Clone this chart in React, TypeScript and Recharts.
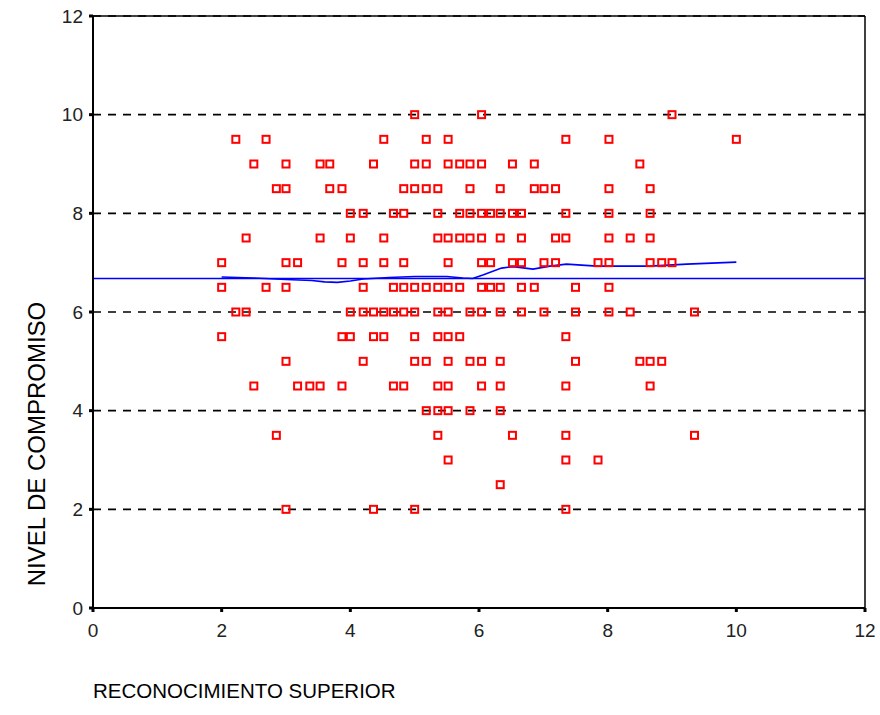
import React from "react";
import {
  ScatterChart,
  Scatter,
  XAxis,
  YAxis,
  CartesianGrid,
  ReferenceLine,
} from "recharts";

// Raw observations: one row per NIVEL DE COMPROMISO level, listing the
// RECONOCIMIENTO SUPERIOR scores recorded at that level.
const level10 = [5.0, 6.04, 9.0];
const level95 = [2.22, 2.69, 4.52, 5.18, 5.52, 7.35, 8.02, 10.0];
const level9 = [2.5, 3.0, 3.53, 3.68, 4.36, 5.0, 5.18, 5.52, 5.7, 5.86, 6.04, 6.52, 6.86, 8.5];
const level85 = [2.85, 3.0, 3.68, 3.87, 4.83, 5.0, 5.18, 5.36, 5.86, 6.33, 6.86, 7.01, 7.19, 8.02, 8.66];
const level8 = [4.0, 4.2, 4.67, 4.83, 5.36, 5.7, 5.86, 6.04, 6.18, 6.33, 6.52, 6.66, 7.35, 8.02, 8.66];
const level75 = [2.38, 3.53, 4.0, 4.52, 5.36, 5.52, 5.7, 5.86, 6.04, 6.33, 6.66, 7.19, 7.35, 8.02, 8.35, 8.66];
const level7 = [2.0, 3.0, 3.18, 3.87, 4.2, 4.52, 4.83, 5.52, 6.04, 6.18, 6.52, 6.66, 7.01, 7.19, 7.85, 8.02, 8.66, 8.84, 9.0];
const level65 = [2.0, 2.69, 3.0, 4.2, 4.67, 4.83, 5.0, 5.18, 5.36, 5.52, 5.7, 6.04, 6.18, 6.33, 6.66, 6.86, 7.5, 8.02];
const level6 = [2.22, 2.38, 4.0, 4.2, 4.36, 4.52, 4.67, 4.83, 5.0, 5.36, 5.52, 5.86, 6.04, 6.33, 6.66, 7.01, 7.5, 8.02, 8.35, 9.35];
const level55 = [2.0, 3.87, 4.0, 4.36, 4.52, 5.0, 5.36, 5.52, 5.7, 7.35];
const level5 = [3.0, 4.2, 5.0, 5.18, 5.52, 5.86, 6.04, 6.33, 7.5, 8.5, 8.66, 8.84];
const level45 = [2.5, 3.18, 3.37, 3.53, 3.87, 4.67, 4.83, 5.36, 5.52, 6.04, 6.33, 7.35, 8.66];
const level4 = [5.18, 5.36, 5.52, 5.86, 6.33];
const level35 = [2.85, 5.36, 6.52, 7.35, 9.35];
const level3 = [5.52, 7.35, 7.85];
const level25 = [6.33];
const level2 = [3.0, 4.36, 5.0, 7.35];

const levelRows: [number, number[]][] = [
  [10, level10],
  [9.5, level95],
  [9, level9],
  [8.5, level85],
  [8, level8],
  [7.5, level75],
  [7, level7],
  [6.5, level65],
  [6, level6],
  [5.5, level55],
  [5, level5],
  [4.5, level45],
  [4, level4],
  [3.5, level35],
  [3, level3],
  [2.5, level25],
  [2, level2],
];

// Smoothed fit across the observed range
const fitX = [2.0, 2.5, 3.0, 3.4, 3.6, 3.8, 4.0, 4.2, 4.6, 5.0, 5.5, 5.75, 5.9, 6.06, 6.35, 6.53, 6.84, 7.1, 7.36, 7.83, 8.66, 9.23, 10.0];
const fitY = [6.71, 6.69, 6.66, 6.64, 6.61, 6.6, 6.63, 6.67, 6.7, 6.72, 6.72, 6.69, 6.68, 6.75, 6.89, 6.92, 6.87, 6.93, 6.97, 6.93, 6.93, 6.97, 7.01];

// Overall mean of NIVEL DE COMPROMISO
const meanLevel = 6.68;

const axisTicks = [0, 2, 4, 6, 8, 10, 12];

const points = levelRows.flatMap(([y, xs]) => xs.map((x) => ({ x, y })));
const fitLine = fitX.map((x, i) => ({ x, y: fitY[i] }));

const FONT = "Arial, 'Liberation Sans', Helvetica, sans-serif";

const HollowSquare = (props: any) => {
  const { cx, cy } = props;
  if (cx == null || cy == null) return null;
  return (
    <rect
      x={cx - 3.5}
      y={cy - 3.5}
      width={7}
      height={7}
      fill="none"
      stroke="#ff0000"
      strokeWidth={2}
    />
  );
};

const NoDot = () => null;

const YTitle = () => (
  <text
    x={36}
    y={444}
    transform="rotate(-90, 36, 444)"
    textAnchor="middle"
    dominantBaseline="central"
    fontFamily={FONT}
    fontSize={24}
    fill="#000"
  >
    NIVEL DE COMPROMISO
  </text>
);

const XTitle = () => (
  <text
    x={93}
    y={698}
    textAnchor="start"
    fontFamily={FONT}
    fontSize={20.5}
    fill="#000"
  >
    RECONOCIMIENTO SUPERIOR
  </text>
);

export default function App() {
  return (
    <div style={{ position: "absolute", left: 0, top: 0, background: "#fff" }}>
      <ScatterChart
        width={880}
        height={715}
        margin={{ top: 16, right: 15, bottom: 0, left: 0 }}
      >
        <CartesianGrid
          horizontal={true}
          vertical={false}
          stroke="#000"
          strokeWidth={1.6}
          strokeDasharray="8 7"
        />
        <XAxis
          type="number"
          dataKey="x"
          domain={[0, 12]}
          ticks={axisTicks}
          interval={0}
          height={107}
          axisLine={{ stroke: "#000", strokeWidth: 2 }}
          tickLine={{ stroke: "#000", strokeWidth: 3 }}
          tickSize={4}
          tickMargin={12}
          tick={{ fill: "#222", fontSize: 19, fontFamily: FONT }}
          label={<XTitle />}
        />
        <YAxis
          type="number"
          dataKey="y"
          domain={[0, 12]}
          ticks={axisTicks}
          interval={0}
          width={93}
          axisLine={{ stroke: "#000", strokeWidth: 2 }}
          tickLine={{ stroke: "#000", strokeWidth: 3 }}
          tickSize={4}
          tickMargin={6}
          tick={{ fill: "#222", fontSize: 19, fontFamily: FONT }}
          label={<YTitle />}
        />
        <ReferenceLine y={12} stroke="#000" strokeWidth={1.5} />
        <ReferenceLine x={12} stroke="#000" strokeWidth={1.5} />
        <ReferenceLine y={meanLevel} stroke="#0000ff" strokeWidth={1.5} />
        <Scatter
          data={fitLine}
          line={{ stroke: "#0000ff", strokeWidth: 1.6 }}
          shape={<NoDot />}
          isAnimationActive={false}
        />
        <Scatter
          data={points}
          shape={<HollowSquare />}
          isAnimationActive={false}
        />
      </ScatterChart>
    </div>
  );
}
